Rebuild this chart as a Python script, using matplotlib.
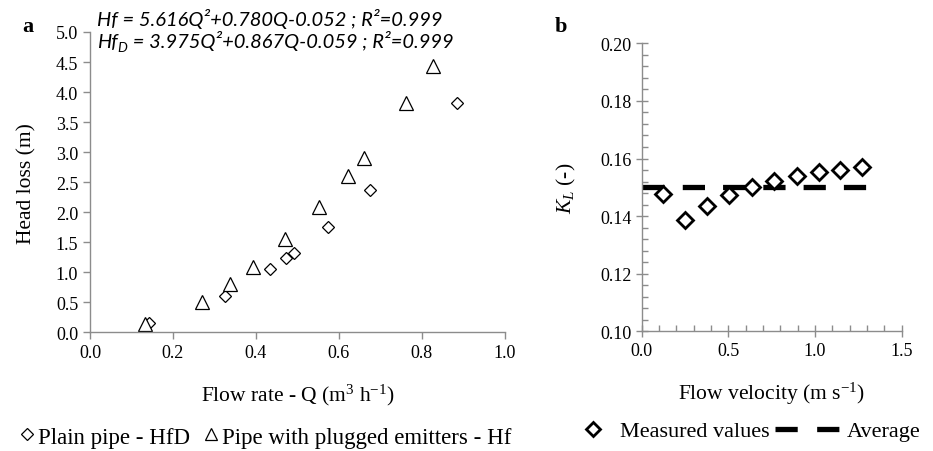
import matplotlib
matplotlib.use("Agg")
import matplotlib.pyplot as plt
from matplotlib.lines import Line2D
from matplotlib.ticker import MultipleLocator, FormatStrFormatter

plt.rcParams['font.family'] = ['Liberation Serif', 'DejaVu Serif']
plt.rcParams['mathtext.fontset'] = 'custom'
plt.rcParams['mathtext.rm'] = 'Liberation Serif'
plt.rcParams['mathtext.it'] = 'Liberation Serif:italic'
plt.rcParams['mathtext.bf'] = 'Liberation Serif:bold'
plt.rcParams['lines.scale_dashes'] = False

# panel a: head loss vs flow rate
q_plain = [0.143, 0.325, 0.435, 0.472, 0.492, 0.574, 0.675, 0.885]
hf_plain = [0.155, 0.60, 1.055, 1.23, 1.32, 1.75, 2.37, 3.82]
q_plug = [0.133, 0.269, 0.337, 0.392, 0.470, 0.553, 0.622, 0.660, 0.763, 0.827]
hf_plug = [0.14, 0.51, 0.80, 1.08, 1.55, 2.08, 2.61, 2.90, 3.81, 4.43]

# panel b: loss coefficient vs velocity
vel = [0.121, 0.248, 0.377, 0.505, 0.635, 0.763, 0.894, 1.021, 1.144, 1.270]
kl = [0.1477, 0.1386, 0.1436, 0.1473, 0.1502, 0.1523, 0.1540, 0.1554, 0.1560, 0.1569]
avg_x = [0.0, 1.30]
avg_y = [0.150, 0.150]

grey = '#8c8c8c'
fig = plt.figure(figsize=(9.33, 4.52), dpi=100)
renderer = fig.canvas.get_renderer()


def pieces_text(x, y, pieces, **kw):
    # write text pieces one after another (for the subscript D)
    cur = x
    for s, size, dy in pieces:
        t = fig.text(cur, y + dy, s, fontsize=size, ha='left', va='baseline', **kw)
        bb = t.get_window_extent(renderer)
        cur = bb.x1 / fig.bbox.width


def style_axes(ax):
    for s in ['top', 'right']:
        ax.spines[s].set_visible(False)
    for s in ['left', 'bottom']:
        ax.spines[s].set_color(grey)
        ax.spines[s].set_linewidth(1)


# ---- panel a ----
ax1 = fig.add_axes([0.0965, 0.2626, 0.4445, 0.6644])
ax1.plot(q_plain, hf_plain, 'D', ms=6.2, mfc='white', mec='black', mew=0.9, ls='none')
ax1.plot(q_plug, hf_plug, '^', ms=9.5, mfc='white', mec='black', mew=0.9, ls='none')
ax1.set_xlim(0, 1.0)
ax1.set_ylim(0, 5.0)
ax1.xaxis.set_major_locator(MultipleLocator(0.2))
ax1.yaxis.set_major_locator(MultipleLocator(0.5))
ax1.xaxis.set_major_formatter(FormatStrFormatter('%.1f'))
ax1.yaxis.set_major_formatter(FormatStrFormatter('%.1f'))
ax1.tick_params(direction='out', length=5, width=1, color=grey, labelsize=13, pad=3.5)
ax1.set_xlabel(r"Flow rate - Q (m$^{3}$ h$^{-1}$)", fontsize=15.5, labelpad=15)
ax1.set_ylabel("Head loss (m)", fontsize=15.5, labelpad=14)
style_axes(ax1)

eq_kw = dict(family='Lato', style='italic')
pieces_text(0.104, 0.9425, [("Hf = 5.616Q\u00b2+0.780Q-0.052 ; R\u00b2=0.999", 14.5, 0)], **eq_kw)
pieces_text(0.104, 0.894, [("Hf", 14.5, 0), ("D", 10, -0.009),
                           (" = 3.975Q\u00b2+0.867Q-0.059 ; R\u00b2=0.999", 14.5, 0)], **eq_kw)
fig.text(0.030, 0.94, 'a', fontsize=16, fontweight='bold', ha='center', va='center')

fig.legend([Line2D([], [], marker='D', ms=6, mfc='white', mec='black', mew=0.9, ls='none')],
           ['Plain pipe - HfD'], loc='center left', bbox_to_anchor=(0.0214, 0.031),
           frameon=False, fontsize=16.5, handlelength=0.6, handletextpad=0.2,
           borderpad=0, borderaxespad=0)
fig.legend([Line2D([], [], marker='^', ms=9, mfc='white', mec='black', mew=0.9, ls='none')],
           ['Pipe with plugged emitters - Hf'], loc='center left', bbox_to_anchor=(0.2176, 0.031),
           frameon=False, fontsize=16.5, handlelength=0.7, handletextpad=0.15,
           borderpad=0, borderaxespad=0)

# ---- panel b ----
ax2 = fig.add_axes([0.6878, 0.2648, 0.2787, 0.6372])
ax2.plot(vel, kl, 'D', ms=8.5, mfc='white', mec='black', mew=2.0, ls='none', zorder=3)
ax2.plot(avg_x, avg_y, color='black', lw=3.8, dashes=(16, 13), zorder=2)
ax2.set_xlim(0, 1.5)
ax2.set_ylim(0.10, 0.20)
ax2.xaxis.set_major_locator(MultipleLocator(0.5))
ax2.xaxis.set_minor_locator(MultipleLocator(0.1))
ax2.yaxis.set_major_locator(MultipleLocator(0.02))
ax2.yaxis.set_minor_locator(MultipleLocator(0.004))
ax2.xaxis.set_major_formatter(FormatStrFormatter('%.1f'))
ax2.yaxis.set_major_formatter(FormatStrFormatter('%.2f'))
ax2.tick_params(which='major', direction='inout', length=9, width=1, color=grey, labelsize=13, pad=3)
ax2.tick_params(which='minor', direction='in', length=4, width=1, color=grey)
ax2.set_xlabel(r"Flow velocity (m s$^{-1}$)", fontsize=15.5, labelpad=15)
ax2.set_ylabel(r"$K_L$ (-)", fontsize=15.5, labelpad=16)
style_axes(ax2)
fig.text(0.601, 0.94, 'b', fontsize=16, fontweight='bold', ha='center', va='center')

fig.legend([Line2D([], [], marker='D', ms=7.5, mfc='white', mec='black', mew=2.0, ls='none')],
           ['Measured values'], loc='center left', bbox_to_anchor=(0.624, 0.044),
           frameon=False, fontsize=16, handlelength=1.0, handletextpad=0.7,
           borderpad=0, borderaxespad=0)
fig.legend([Line2D([], [], color='black', lw=3.8, dashes=(16, 14))],
           ['Average'], loc='center left', bbox_to_anchor=(0.8307, 0.044),
           frameon=False, fontsize=16, handlelength=2.95, handletextpad=0.3,
           borderpad=0, borderaxespad=0)

fig.savefig('out.png', dpi=100)
